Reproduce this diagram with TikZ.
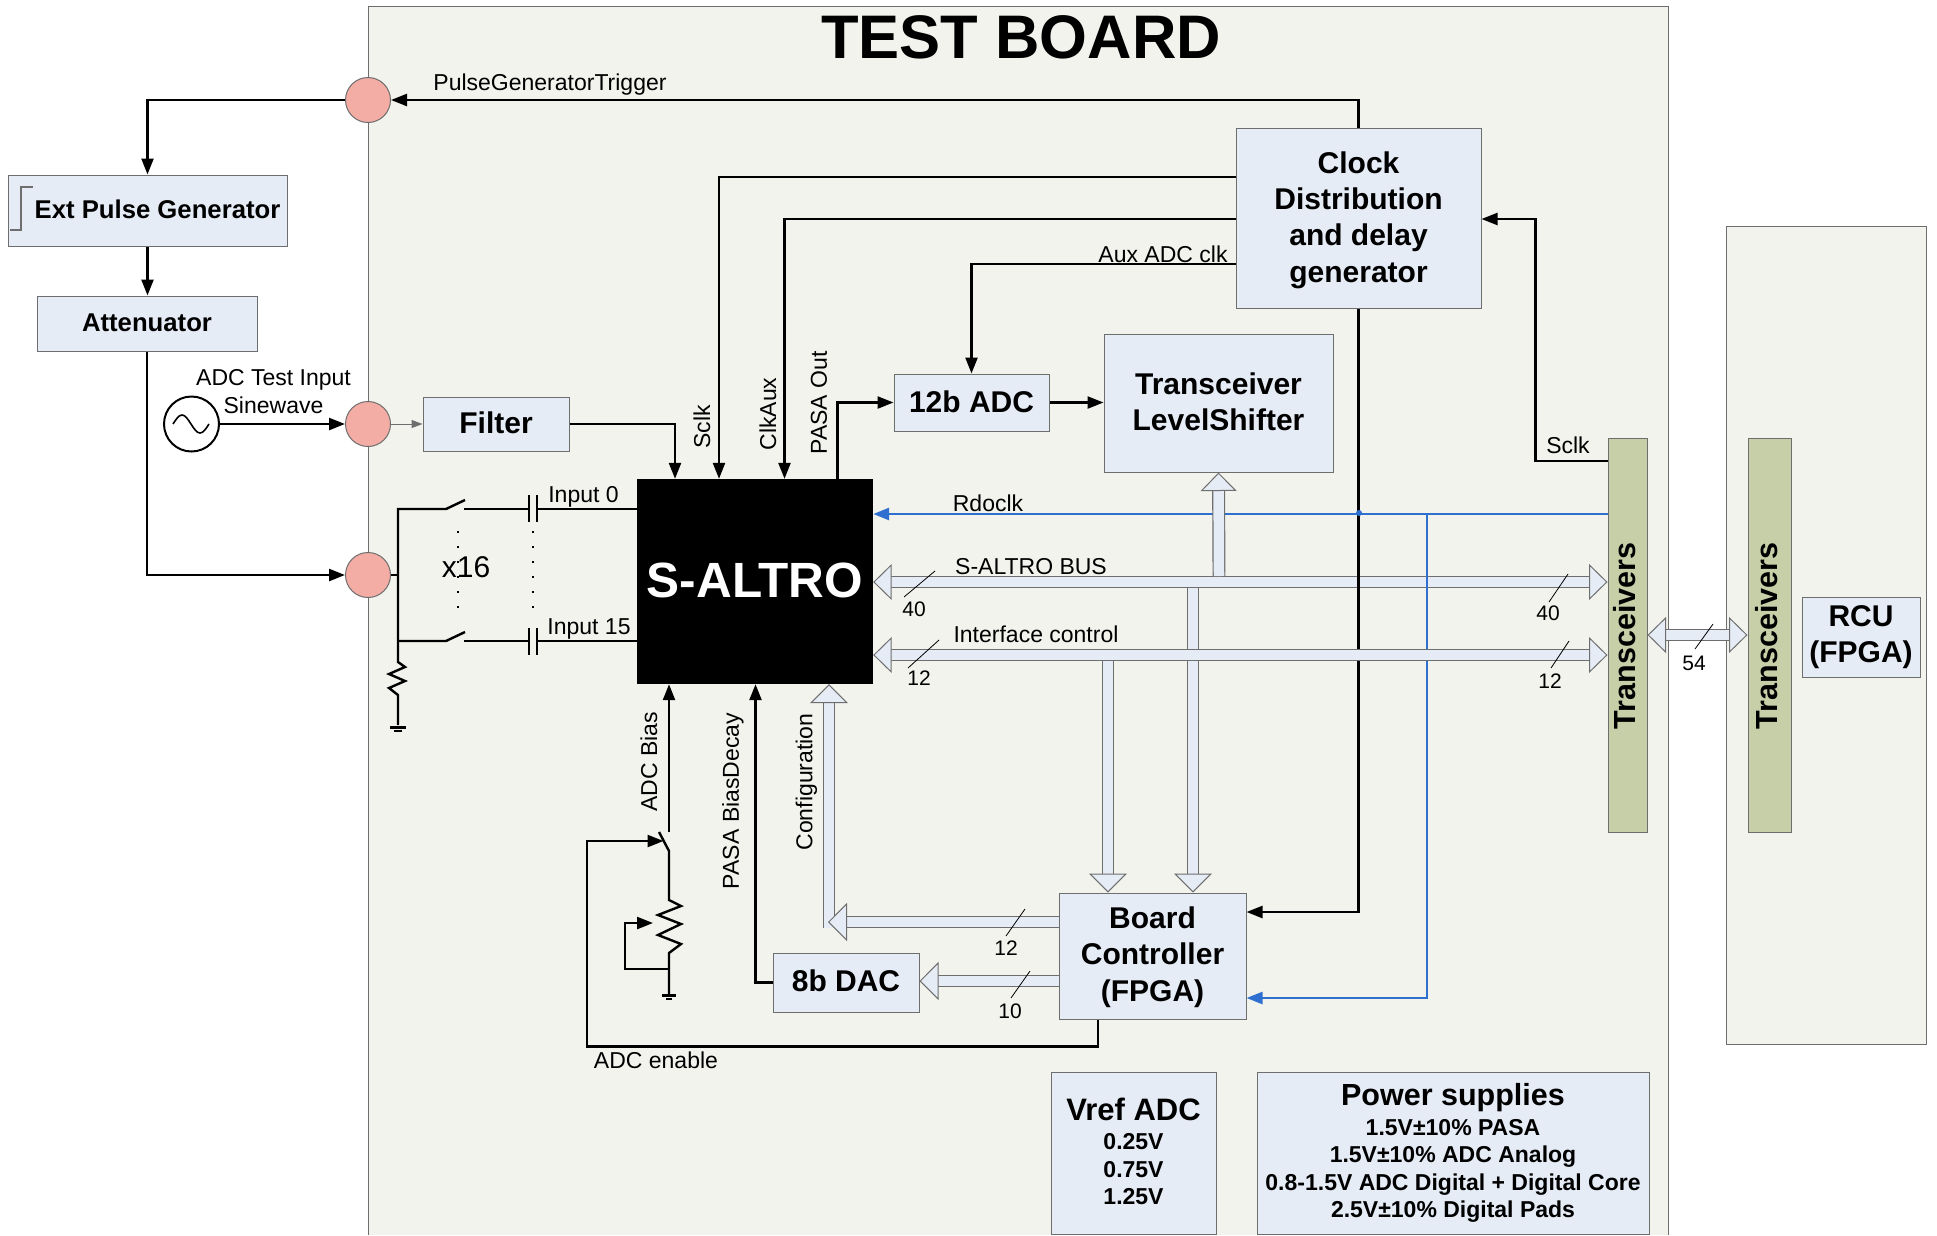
\documentclass[tikz,border=0pt]{standalone}
\usepackage{fontspec}
\usepackage{tikz}
\usetikzlibrary{arrows.meta}
\setmainfont{Liberation Sans}
\definecolor{boardfill}{HTML}{F2F3EC}
\definecolor{boxfill}{HTML}{E6ECF6}
\definecolor{portfill}{HTML}{F4ADA5}
\definecolor{xcvrfill}{HTML}{C7CFA8}
\definecolor{framegray}{HTML}{6E6E6E}
\definecolor{rdoblue}{HTML}{2F6FCF}
\newcommand{\lift}[1]{\rule[-#1pt]{0pt}{0pt}}
\newcommand{\sink}[1]{\rule{0pt}{#1pt}}
\tikzset{
  bustip/.tip={Triangle[length=18.5pt,width=36pt,fill=boxfill,line width=1pt]},
  bigtip/.tip={Triangle[length=19pt,width=38pt,fill=boxfill,line width=1pt]},
  block/.style={draw=framegray, fill=boxfill, line width=1pt, inner sep=0pt, align=center,
    font=\fontsize{30}{36.2}\selectfont\bfseries},
  port/.style={circle, draw=framegray, fill=portfill, line width=1pt, minimum size=45pt, inner sep=0pt},
  xcvr/.style={draw=framegray, fill=xcvrfill, line width=1pt, inner sep=0pt, minimum width=39pt, minimum height=394pt},
  wire/.style={line width=2.4pt},
  sig/.style={wire, -{Triangle[length=16pt,width=12pt]}},
  bus/.style={draw=framegray, double=boxfill, double distance=10.5pt, line width=1.2pt},
  lbl/.style={inner sep=0pt, font=\fontsize{23}{28}\selectfont},
  cnt/.style={inner sep=0pt, font=\fontsize{21}{25}\selectfont},
  slash/.style={line width=0.8pt},
  plate/.style={line width=2.4pt}
}
\begin{document}
\begin{tikzpicture}[x=1pt,y=-1pt]
  \useasboundingbox (0,0) rectangle (1937,1235);
  % Panels
  \fill[boardfill] (368,6) rectangle (1668,1235);
  \draw[framegray, line width=1pt] (368,1235) -- (368,6) -- (1668,6) -- (1668,1235);
  \draw[framegray, fill=boardfill, line width=1pt] (1726,226) rectangle (1926,1044);
  \node[inner sep=0pt, font=\fontsize{61.5}{70}\selectfont\bfseries] (title) at (1021,37) {TEST BOARD};

  % Nodes
  \node[port] (p1) at (368,100) {};
  \node[port] (p2) at (368,424) {};
  \node[port] (p3) at (368,575) {};
  \node[block, minimum width=279pt, minimum height=71pt, font=\fontsize{25.7}{30}\selectfont\bfseries] (pulse) at (147.5,210.5) {\hspace*{20pt}Ext Pulse Generator\lift{2}};
  \node[block, minimum width=220pt, minimum height=55pt, font=\fontsize{25.7}{30}\selectfont\bfseries] (att) at (147,323.5) {Attenuator\lift{2}};
  \node[circle, draw, line width=2pt, minimum size=55pt, inner sep=0pt] (src) at (191.5,424) {};
  \node[block, minimum width=146pt, minimum height=54pt] (filter) at (496,424) {Filter\lift{3}};
  \node[fill=black, text=white, inner sep=0pt, minimum width=236pt, minimum height=205pt, font=\fontsize{49.5}{54}\selectfont\bfseries] (altro) at (755,581.5) {S-ALTRO\lift{2}};
  \node[block, minimum width=245pt, minimum height=180pt] (clock) at (1358.5,218) {\sink{26}Clock\\Distribution\\and delay\\generator};
  \node[block, minimum width=155pt, minimum height=57pt] (adc) at (971.5,402.5) {12b ADC\lift{2}};
  \node[block, minimum width=229pt, minimum height=138pt] (shifter) at (1218.5,403) {Transceiver\\LevelShifter\lift{3}};
  \node[block, minimum width=187pt, minimum height=126pt] (bc) at (1152.5,956) {\sink{24}Board\\Controller\\(FPGA)};
  \node[block, minimum width=146pt, minimum height=59pt] (dac) at (846,982.5) {8b DAC\lift{3}};
  \node[xcvr] (x1) at (1627.5,635.5) {};
  \node[xcvr, minimum width=43pt] (x2) at (1769.5,635.5) {};
  \node[rotate=90, inner sep=0pt, font=\fontsize{30.5}{36}\selectfont\bfseries] (x1t) at (1625,636) {Transceivers};
  \node[rotate=90, inner sep=0pt, font=\fontsize{30.5}{36}\selectfont\bfseries] (x2t) at (1767,636) {Transceivers};
  \node[block, minimum width=118pt, minimum height=80pt] (rcu) at (1861,637) {RCU\\(FPGA)};
  \node[block, minimum width=165pt, minimum height=162pt, font=\fontsize{23}{27.5}\selectfont\bfseries] (vref) at (1133.5,1153) {{\fontsize{31}{36}\selectfont Vref ADC}\\[1.5pt]0.25V\\0.75V\\1.25V\lift{3}};
  \node[block, minimum width=392pt, minimum height=162pt, font=\fontsize{23}{27.5}\selectfont\bfseries] (power) at (1453,1153) {{\fontsize{30.5}{36}\selectfont Power supplies}\\[2pt]1.5V±10\% PASA\\1.5V±10\% ADC Analog\\0.8-1.5V ADC Digital + Digital Core\\2.5V±10\% Digital Pads\lift{2}};

  % Buses under the lines
  \draw[bus, bustip-bustip] (altro.east |- 0,582) -- (x1.west |- 0,582);

  % Edges
  \draw[sig] (clock.north) -- (clock.north |- p1.east) -- (p1.east);
  \draw[sig] (p1.west) -| (pulse.north);
  \draw[sig] (pulse.south) -- (att.north -| pulse.south);
  \draw[sig] (att.south) |- (p3.west);
  \draw[sig] (src.east) -- (p2.west);
  \draw[line width=1pt, framegray, -{Triangle[length=11pt,width=8pt]}] (p2.east) -- (filter.west);
  \draw[sig] (filter.east) -| (altro.north -| 675,0);
  \draw[sig] (clock.west |- 0,177) -| (altro.north -| 719,0);
  \draw[sig] (clock.west |- 0,219) -| (altro.north -| 784.5,0);
  \draw[sig] (clock.west |- 0,264) -| (adc.north);
  \draw[sig] (altro.north -| 837.5,0) |- (adc.west);
  \draw[sig] (adc.east) -- (shifter.west |- adc.east);
  \draw[sig] (clock.south) |- (bc.east |- 0,912);
  \draw[sig] (x1.west |- 0,461) -| (1535.5,219) -- (clock.east |- 0,219);
  \draw[sig, rdoblue, line width=2.8pt] (x1.west |- 0,514) -- (altro.east |- 0,514);
  \draw[sig, rdoblue] (1427,514) |- (bc.east |- 0,998);
  \fill[rdoblue] (1359,513) circle (3pt);

  % Buses
  \draw[bus, -bustip] (1219,576) -- (shifter.south);
  \draw[bus, -bigtip] (1193,588) -- (bc.north -| 1193,0);
  \draw[bus, -bigtip] (1108,655) -- (bc.north -| 1108,0);
  \draw[bus, bustip-bustip] (altro.east |- 0,655) -- (x1.west |- 0,655);
  \draw[bus, -bigtip] (829,928) -- (altro.south -| 829,0);
  \draw[bus, -bigtip] (bc.west |- 0,922) -- (828,922);
  \draw[bus, -bigtip] (bc.west |- 0,981) -- (dac.east |- 0,981);
  \draw[bus, bustip-bustip] (x1.east |- 0,635) -- (x2.west |- 0,635);

  % Inputs
  \draw[wire] (p3.east) -- (398,575);
  \draw[wire] (464,509) -- (529,509);
  \draw[wire] (altro.west |- 0,509) -- (537,509);
  \draw[wire] (464,641) -- (529,641);
  \draw[wire] (altro.west |- 0,641) -- (537,641);
  \draw[wire] (465,500) -- (446,509) -- (398,509) -- (398,662) -- (405,667) -- (389,674) -- (405,681) -- (389,688) -- (398,695) -- (398,725);
  \draw[wire] (398,641) -- (446,641) -- (465,632);
  \draw[plate] (529,495) -- (529,522);
  \draw[plate] (537,495) -- (537,522);
  \draw[plate] (529,628) -- (529,655);
  \draw[plate] (537,628) -- (537,655);
  \draw[line width=3pt] (390,727) -- (406,727);
  \draw[plate] (394,731) -- (402,731);
  \draw[line width=2pt, dash pattern=on 2pt off 13pt] (458,531) -- (458,615);
  \draw[line width=2pt, dash pattern=on 2pt off 13pt] (533,531) -- (533,615);

  % Bias
  \draw[sig] (669,832) -- (altro.south -| 669,0);
  \draw[wire] (659,832) -- (669,851) -- (669,900) -- (681,906) -- (658,915) -- (681,924) -- (658,935) -- (681,944) -- (669,953) -- (669,994);
  \draw[line width=3pt] (662,995) -- (676,995);
  \draw[plate] (666,999) -- (672,999);
  \draw[sig] (669,969) -- (625,969) -- (625,923) -- (653,923);
  \draw[sig] (dac.west) -| (altro.south -| 755.5,0);
  \draw[sig] (bc.south -| 1098,0) -- (1098,1046.5) -- (587,1046.5) -- (587,841) -- (663.5,841);

  % Symbols
  \draw[line width=1.6pt] (173,424) sin (182,415) cos (191,424) sin (200,433) cos (209,424);
  \draw[framegray, line width=1.2pt] (10,230) -- (21,230) -- (21,187) -- (33,187);

  % Labels
  \node[lbl] (t1) at (550,85) {PulseGeneratorTrigger};
  \node[lbl] (t2) at (273.5,380) {ADC Test Input};
  \node[lbl] (t3) at (273.5,405) {Sinewave};
  \node[lbl] (t4) at (583.5,497) {Input 0};
  \node[lbl] (t5) at (589,629) {Input 15};
  \node[lbl, font=\fontsize{30}{34}\selectfont] (t6) at (466,567) {x16};
  \node[lbl, rotate=90] (t7) at (702,427) {Sclk};
  \node[lbl, rotate=90] (t8) at (768,414) {ClkAux};
  \node[lbl, rotate=90] (t9) at (819,403) {PASA Out};
  \node[lbl] (t10) at (1163,254) {Aux ADC clk};
  \node[lbl] (t11) at (1568,445) {Sclk};
  \node[lbl] (t12) at (988,503) {Rdoclk};
  \node[lbl] (t13) at (1031,567) {S-ALTRO BUS};
  \node[lbl] (t14) at (1036,634) {Interface control};
  \node[lbl, rotate=90] (t15) at (649,762) {ADC Bias};
  \node[lbl, rotate=90] (t16) at (733,801) {PASA BiasDecay};
  \node[lbl, rotate=90] (t17) at (806.5,782) {Configuration};
  \node[lbl] (t18) at (656,1060) {ADC enable};

  % Bus widths
  \draw[slash] (904,597) -- (935,571);
  \node[cnt] (n1) at (914,609) {40};
  \draw[slash] (908,668) -- (939,640);
  \node[cnt] (n2) at (919,678) {12};
  \draw[slash] (1549,602) -- (1568,574);
  \node[cnt] (n3) at (1548,613) {40};
  \draw[slash] (1551,668) -- (1569,641);
  \node[cnt] (n4) at (1550,681) {12};
  \draw[slash] (1695,649) -- (1713,624);
  \node[cnt] (n5) at (1694,663) {54};
  \draw[slash] (1006,936) -- (1025,909);
  \node[cnt] (n6) at (1006,948) {12};
  \draw[slash] (1011,998) -- (1030,971);
  \node[cnt] (n7) at (1010,1011) {10};
\end{tikzpicture}
\end{document}
